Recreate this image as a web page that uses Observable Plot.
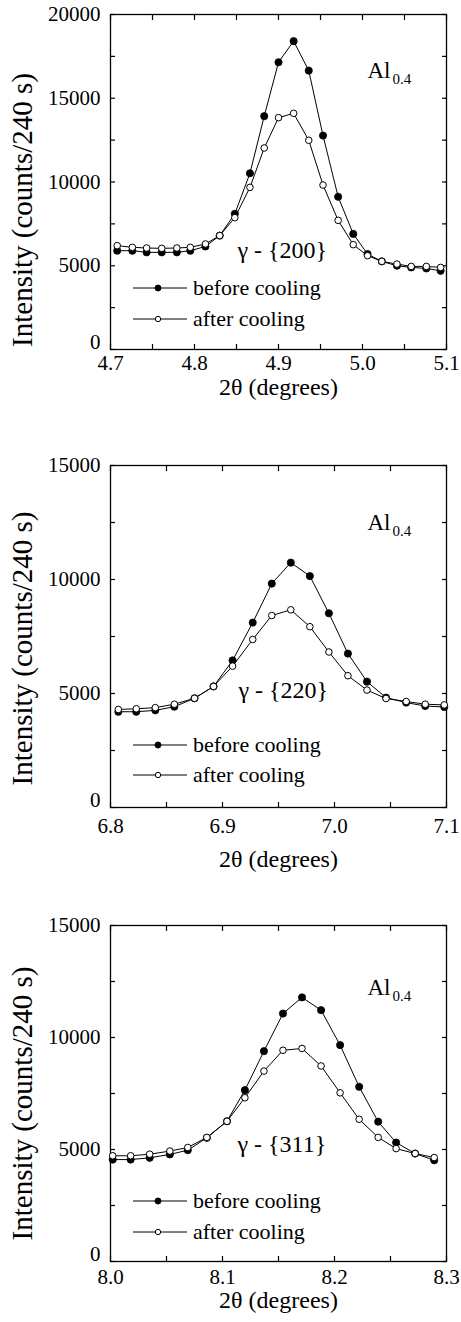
<!DOCTYPE html>
<html><head><meta charset="utf-8">
<script src="https://cdn.jsdelivr.net/npm/d3@7"></script>
<script src="https://cdn.jsdelivr.net/npm/@observablehq/plot@0.6"></script>
<style>
html,body{margin:0;padding:0;background:#fff;font-family:'Liberation Serif';}
</style></head><body><div id="chart"></div>
<script>
// ---- data: gamma-{200} ----
const x200 = [4.708, 4.726, 4.743, 4.761, 4.779, 4.795, 4.813, 4.830, 4.848, 4.866, 4.883, 4.900, 4.918, 4.936, 4.953, 4.971, 4.989, 5.006, 5.023, 5.041, 5.058, 5.076, 5.093];
const before200 = [5900, 5900, 5800, 5800, 5800, 5900, 6150, 6800, 8100, 10520, 13930, 17150, 18410, 16650, 12770, 9120, 6900, 5700, 5260, 5000, 4900, 4840, 4700];
const after200 = [6200, 6100, 6060, 6040, 6060, 6100, 6300, 6800, 7870, 9680, 12030, 13840, 14100, 12490, 9820, 7710, 6260, 5600, 5260, 5100, 4960, 4960, 4900];
// ---- data: gamma-{220} ----
const x220 = [6.807, 6.823, 6.840, 6.857, 6.875, 6.892, 6.909, 6.927, 6.944, 6.961, 6.978, 6.995, 7.012, 7.029, 7.046, 7.064, 7.081, 7.098];
const before220 = [4200, 4200, 4260, 4420, 4790, 5310, 6450, 8110, 9820, 10740, 10150, 8520, 6750, 5520, 4820, 4600, 4450, 4410];
const after220 = [4300, 4330, 4380, 4530, 4790, 5310, 6200, 7370, 8420, 8670, 7930, 6820, 5780, 5150, 4780, 4650, 4530, 4500];
// ---- data: gamma-{311} ----
const x311 = [8.002, 8.018, 8.035, 8.053, 8.069, 8.086, 8.104, 8.120, 8.137, 8.154, 8.171, 8.188, 8.205, 8.222, 8.239, 8.255, 8.272, 8.289];
const before311 = [4550, 4550, 4630, 4780, 4970, 5520, 6260, 7650, 9390, 11070, 11790, 11220, 9660, 7800, 6240, 5310, 4820, 4520];
const after311 = [4720, 4720, 4790, 4930, 5090, 5540, 6260, 7310, 8500, 9430, 9510, 8730, 7530, 6350, 5540, 5040, 4820, 4640];

// ---- tick values ----
const xTicks200 = [4.7, 4.8, 4.9, 5.0, 5.1];
const xTicks220 = [6.8, 6.9, 7.0, 7.1];
const xTicks311 = [8.0, 8.1, 8.2, 8.3];
const yTicks20k = [5000, 10000, 15000, 20000];
const yTicks15k = [5000, 10000, 15000];
const yZero = [0];

const seriesNames = ["before cooling", "after cooling"];
const yTitle = "Intensity (counts/240 s)";
const xTitle = "2θ (degrees)";
const alloyMain = "Al";
const alloySub = "0.4";

const FONT = "Liberation Serif";

const panels = [
  {xs: x200, before: before200, after: after200, xDomain: [4.7, 5.1], yMax: 20000, xTicks: xTicks200, yTicks: yTicks20k,
   hkl: "γ - {200}", plotTop: 14, plotH: 335, hklDx: 127, hklY: 243, alY: 63, legY: [-61, -30], tickOff: 21, titleOff: 45, yTitleDy: 28},
  {xs: x220, before: before220, after: after220, xDomain: [6.8, 7.1], yMax: 15000, xTicks: xTicks220, yTicks: yTicks15k,
   hkl: "γ - {220}", plotTop: 465, plotH: 342, hklDx: 128, hklY: 232, alY: 64, legY: [-62, -32], tickOff: 26, titleOff: 59, yTitleDy: 12},
  {xs: x311, before: before311, after: after311, xDomain: [8.0, 8.3], yMax: 15000, xTicks: xTicks311, yTicks: yTicks15k,
   hkl: "γ - {311}", plotTop: 925, plotH: 336, hklDx: 127, hklY: 226, alY: 69, legY: [-60, -29], tickOff: 23, titleOff: 46, yTitleDy: 10}
];

const ML = 110, MR = 15, MT = 14, W = 461;
const Y_TITLE_SIZE = 29;

function minorTicks(major) {
  const out = [];
  for (let i = 0; i < major.length; i++) {
    out.push(major[i]);
    if (i < major.length - 1) out.push((major[i] + major[i + 1]) / 2);
  }
  return out;
}

function legendMark(p) {
  return () => {
    const g = d3.create("svg:g");
    const bottom = MT + p.plotH;
    seriesNames.forEach((name, i) => {
      const y = bottom + p.legY[i];
      g.append("line").attr("x1", ML + 23).attr("x2", ML + 77).attr("y1", y).attr("y2", y)
        .attr("stroke", "#000").attr("stroke-width", 1);
      g.append("circle").attr("cx", ML + 48).attr("cy", y).attr("r", i === 0 ? 3 : 2.7)
        .attr("fill", i === 0 ? "#000" : "#fff").attr("stroke", "#000").attr("stroke-width", 1);
      g.append("text").attr("x", ML + 83).attr("y", y).attr("dy", "0.32em")
        .attr("font-family", FONT).attr("text-anchor", "start").attr("font-size", 22).attr("fill", "#000").text(name);
    });
    return g.node();
  };
}

const root = document.getElementById("chart");
let used = 0;

panels.forEach(p => {
  const H = MT + p.plotH + 72;
  const rows = p.xs.map((x, i) => ({x, before: p.before[i], after: p.after[i]}));
  const xMinor = minorTicks(p.xTicks);
  const yMinor = minorTicks([0, ...p.yTicks]);
  const chart = Plot.plot({
    width: W, height: H,
    marginLeft: ML, marginRight: MR, marginTop: MT, marginBottom: H - MT - p.plotH,
    x: {domain: p.xDomain},
    y: {domain: [0, p.yMax]},
    style: {fontFamily: FONT, fontSize: "21px"},
    marks: [
      Plot.axisX(xMinor, {anchor: "bottom", tickSize: -5, tickFormat: () => "", label: null, strokeWidth: 1.2}),
      Plot.axisX(xMinor, {anchor: "top", tickSize: -5, tickFormat: () => "", label: null, strokeWidth: 1.2}),
      Plot.axisY(yMinor, {anchor: "left", tickSize: -5, tickFormat: () => "", label: null, strokeWidth: 1.2}),
      Plot.axisY(yMinor, {anchor: "right", tickSize: -5, tickFormat: () => "", label: null, strokeWidth: 1.2}),
      Plot.axisX(p.xTicks, {anchor: "bottom", tickSize: 0, tickPadding: p.tickOff - 15, tickFormat: d3.format(".1f"), label: null, fontSize: 21}),
      Plot.axisY(p.yTicks, {anchor: "left", tickSize: 0, tickPadding: 10, tickFormat: d => String(d), label: null, fontSize: 21}),
      Plot.axisY(yZero, {anchor: "left", tickSize: 0, tickPadding: 10, dy: -7, tickFormat: d => String(d), label: null, fontSize: 21}),
      Plot.frame({stroke: "#000", strokeWidth: 1.3}),
      Plot.line(rows, {x: "x", y: "before", stroke: "#000", strokeWidth: 1}),
      Plot.dot(rows, {x: "x", y: "before", r: 3.6, fill: "#000", stroke: "#000", strokeWidth: 0.8}),
      Plot.line(rows, {x: "x", y: "after", stroke: "#000", strokeWidth: 1}),
      Plot.dot(rows, {x: "x", y: "after", r: 3.3, fill: "#fff", stroke: "#000", strokeWidth: 1}),
      Plot.text([p.hkl], {frameAnchor: "top-left", dx: p.hklDx, dy: p.hklY, text: d => d, textAnchor: "start", lineAnchor: "bottom", fontSize: 24, fill: "#000"}),
      Plot.text([alloyMain], {frameAnchor: "top-left", dx: 257, dy: p.alY, text: d => d, textAnchor: "start", lineAnchor: "bottom", fontSize: 23, fill: "#000"}),
      Plot.text([alloySub], {frameAnchor: "top-left", dx: 282, dy: p.alY + 6, text: d => d, textAnchor: "start", lineAnchor: "bottom", fontSize: 15, fill: "#000"}),
      Plot.text([xTitle], {frameAnchor: "bottom", dy: p.titleOff, text: d => d, textAnchor: "middle", lineAnchor: "bottom", fontSize: 24, fill: "#000"}),
      Plot.text([yTitle], {frameAnchor: "left", rotate: -90, dx: -110 + 12 + 0.662 * Y_TITLE_SIZE, dy: p.yTitleDy, text: d => d, textAnchor: "middle", lineAnchor: "bottom", fontSize: Y_TITLE_SIZE, fill: "#000"}),
      legendMark(p)
    ]
  });
  const top = p.plotTop - MT;
  chart.style.display = "block";
  chart.style.marginTop = (top - used) + "px";
  used = top + H;
  root.appendChild(chart);
  chart.querySelectorAll("text").forEach(t => { if (t.getComputedTextLength) t.getComputedTextLength(); });
});
</script>
</body></html>
